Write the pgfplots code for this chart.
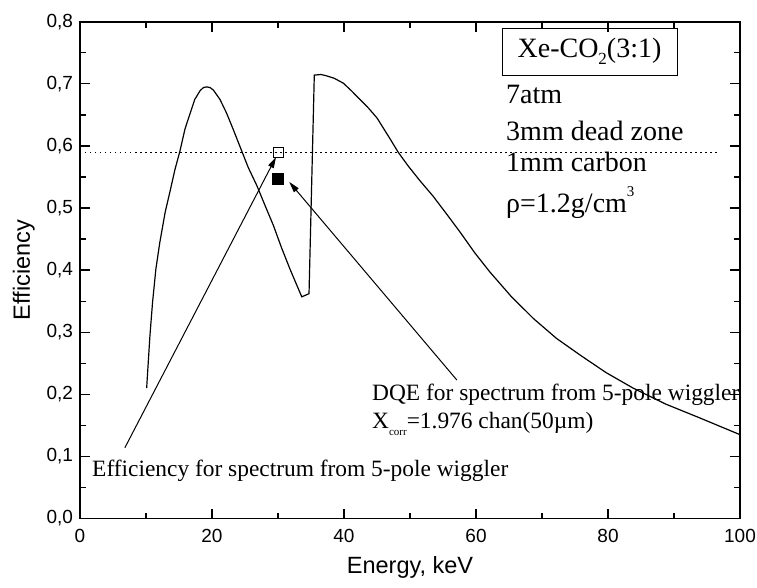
\documentclass[border=0pt]{standalone}
\usepackage{fontspec}
\setmainfont{Liberation Sans}
\newfontfamily\tnr{Liberation Serif}
\usepackage{pgfplots}
\pgfplotsset{compat=1.18}
\usetikzlibrary{arrows.meta}

\begin{document}
\begin{tikzpicture}
\begin{axis}[
  scale only axis, width=660pt, height=496.8pt,
  xmin=0, xmax=100, ymin=0, ymax=0.8,
  xtick={0,20,40,60,80,100}, minor x tick num=1,
  ytick={0,0.1,0.2,0.3,0.4,0.5,0.6,0.7,0.8}, minor y tick num=1,
  tick align=inside,
  major tick length=10pt, minor tick length=6pt,
  tick style={black, line width=1.3pt},
  axis line style={line width=1.8pt},
  tick label style={font=\fontsize{19}{21}\selectfont},
  /pgf/number format/assume math mode=true,
  yticklabel style={xshift=-3.5pt, /pgf/number format/.cd, fixed, fixed zerofill, precision=1, use comma},
  xticklabel style={yshift=-7pt, /pgf/number format/.cd, fixed, precision=0},
  xlabel={Energy, keV}, ylabel={Efficiency},
  label style={font=\fontsize{23.5}{28}\selectfont},
  xlabel style={at={(axis description cs:0.5,-0.1097)}, anchor=base},
  ylabel style={at={(axis description cs:-0.0758,0.5)}, anchor=base},
  clip=false,
]
\addplot[black, line width=1.2pt] coordinates {
(10.1,0.210) (10.35,0.253) (10.6,0.295) (11.0,0.349) (11.5,0.402) (12.1,0.445)
(12.9,0.493) (13.6,0.525) (14.4,0.5625) (15.15,0.592) (15.9,0.627) (16.7,0.653)
(17.4,0.675) (18.2,0.689) (18.7,0.694) (19.2,0.695) (19.7,0.694) (20.2,0.690) (21.2,0.675) (22.2,0.653)
(23.2,0.627) (24.2,0.600) (25.5,0.565) (26.8,0.536) (28.0,0.505) (29.3,0.472) (30.5,0.437) (31.8,0.402)
(32.8,0.377) (33.6,0.357) (34.7,0.362) (35.5,0.714) (36.5,0.715) (37.3,0.713) (38.5,0.709) (39.9,0.701)
(41.1,0.689) (42.4,0.675) (43.7,0.661) (45.0,0.645) (47.0,0.611) (48.2,0.590) (49.7,0.568) (51.5,0.544) (53.5,0.519)
(55.5,0.491) (57.6,0.461) (59.8,0.428) (62.1,0.397) (65.3,0.358) (68.7,0.322) (72.2,0.290) (75.8,0.263) (79.7,0.235) (83.8,0.210) (88.8,0.184) (93.9,0.162)
(100,0.135)
};
\addplot[black, line width=1pt, dash pattern=on 1.5pt off 3.5pt] coordinates {(0,0.59) (96.5,0.59)};
\addplot[only marks, mark=square, mark size=5pt, mark options={line width=1pt, draw=black}] coordinates {(30,0.59)};
\addplot[only marks, mark=square*, mark size=5.5pt, mark options={fill=black, draw=black}] coordinates {(30,0.547)};

\draw[line width=1pt, -{Triangle[length=11pt,width=6pt]}] (axis cs:6.8,0.114) -- (axis cs:29.7,0.582);
\draw[line width=1pt, -{Triangle[length=11pt,width=6pt]}] (axis cs:57.1,0.223) -- (axis cs:31.7,0.542);

\node[draw, line width=1pt, minimum width=175pt, minimum height=47pt, inner sep=0pt,
      font=\tnr\fontsize{28}{30}\selectfont] at (axis cs:77.2,0.752)
      {Xe-CO\raisebox{-0.25em}{\fontsize{17}{17}\selectfont 2}(3:1)};
\node[anchor=base west, inner sep=0pt, font=\tnr\fontsize{28}{30}\selectfont] at (axis cs:64.55,0.6675) {7atm};
\node[anchor=base west, inner sep=0pt, font=\tnr\fontsize{28}{30}\selectfont] at (axis cs:64.55,0.6095) {3mm dead zone};
\node[anchor=base west, inner sep=0pt, font=\tnr\fontsize{28}{30}\selectfont] at (axis cs:64.55,0.558) {1mm carbon};
\node[anchor=base west, inner sep=0pt, font=\tnr\fontsize{28}{30}\selectfont] at (axis cs:64.55,0.492) {ρ=1.2g/cm\raisebox{0.6em}{\fontsize{15}{15}\selectfont 3}};

\node[anchor=base west, inner sep=0pt, font=\tnr\fontsize{23.4}{26}\selectfont] at (axis cs:44.24,0.1908) {DQE for spectrum from 5-pole wiggler};
\node[anchor=base west, inner sep=0pt, font=\tnr\fontsize{23.4}{26}\selectfont] at (axis cs:44.24,0.1457) {X\raisebox{-0.3em}{\fontsize{11}{11}\selectfont corr}=1.976 chan(50µm)};
\node[anchor=base west, inner sep=0pt, font=\tnr\fontsize{23.4}{26}\selectfont] at (axis cs:1.82,0.0684) {Efficiency for spectrum from 5-pole wiggler};
\end{axis}
\pgfresetboundingbox
\path[use as bounding box] (-80pt,-68.5pt) rectangle (677pt,518.5pt);
\end{tikzpicture}
\end{document}
